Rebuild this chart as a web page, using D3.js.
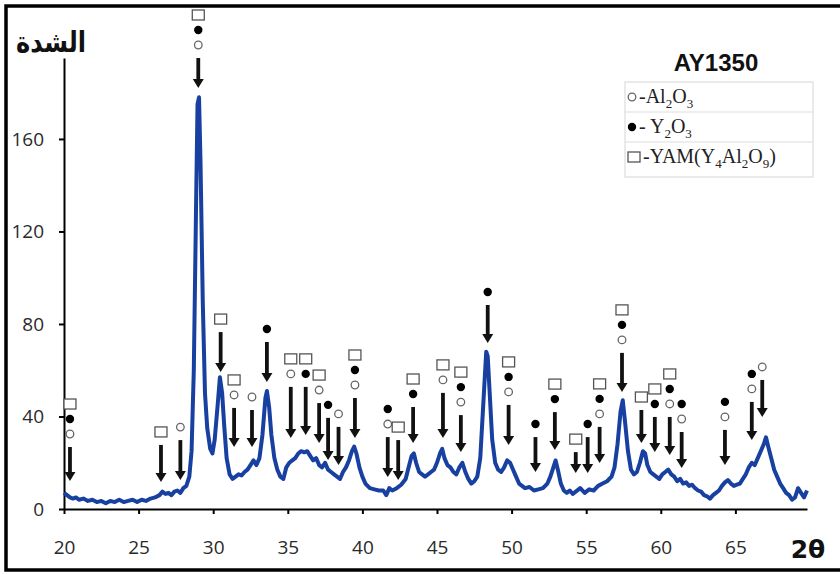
<!DOCTYPE html>
<html>
<head>
<meta charset="utf-8">
<script src="https://cdn.jsdelivr.net/npm/d3@7"></script>
<style>
  body { margin: 0; background: #fff; }
  svg { display: block; }
</style>
</head>
<body>
<div id="chart"></div>
<script>
// XRD pattern, sample AY1350
var twoTheta = [20.0, 20.2, 20.4, 20.6, 20.8, 21.0, 21.3, 21.6, 21.9, 22.2, 22.5, 22.8, 23.1, 23.4, 23.7, 24.0, 24.3, 24.6, 24.9, 25.2, 25.5, 25.8, 26.1, 26.4, 26.6, 26.8, 27.0, 27.2, 27.4, 27.6, 27.8, 28.0, 28.2, 28.4, 28.55, 28.7, 28.85, 28.95, 29.05, 29.15, 29.3, 29.45, 29.6, 29.8, 29.95, 30.1, 30.3, 30.45, 30.6, 30.75, 30.9, 31.1, 31.3, 31.5, 31.7, 31.9, 32.1, 32.3, 32.5, 32.7, 32.9, 33.1, 33.3, 33.5, 33.6, 33.75, 33.9, 34.1, 34.3, 34.5, 34.7, 34.9, 35.1, 35.3, 35.5, 35.7, 35.9, 36.1, 36.3, 36.5, 36.7, 36.9, 37.1, 37.3, 37.5, 37.7, 37.9, 38.1, 38.3, 38.5, 38.7, 38.9, 39.1, 39.3, 39.45, 39.6, 39.8, 40.0, 40.2, 40.5, 40.8, 41.1, 41.4, 41.6, 41.8, 42.0, 42.3, 42.6, 42.9, 43.1, 43.3, 43.45, 43.6, 43.8, 44.0, 44.2, 44.4, 44.6, 44.8, 45.0, 45.2, 45.35, 45.5, 45.7, 45.9, 46.1, 46.3, 46.5, 46.7, 46.9, 47.1, 47.3, 47.5, 47.7, 47.9, 48.1, 48.3, 48.4, 48.55, 48.7, 48.9, 49.1, 49.3, 49.5, 49.7, 49.9, 50.1, 50.3, 50.5, 50.7, 50.9, 51.2, 51.5, 51.8, 52.1, 52.4, 52.6, 52.8, 52.95, 53.1, 53.3, 53.5, 53.7, 53.9, 54.1, 54.3, 54.6, 54.9, 55.2, 55.5, 55.8, 56.1, 56.4, 56.7, 56.9, 57.1, 57.3, 57.45, 57.6, 57.8, 58.0, 58.2, 58.4, 58.6, 58.8, 58.95, 59.1, 59.3, 59.5, 59.7, 59.9, 60.1, 60.3, 60.5, 60.7, 60.9, 61.1, 61.3, 61.5, 61.7, 61.9, 62.1, 62.3, 62.5, 62.7, 62.9, 63.1, 63.3, 63.5, 63.7, 63.9, 64.1, 64.3, 64.5, 64.7, 64.9, 65.1, 65.3, 65.5, 65.7, 65.9, 66.1, 66.3, 66.5, 66.7, 66.9, 67.05, 67.2, 67.4, 67.6, 67.8, 68.0, 68.2, 68.4, 68.6, 68.8, 69.0, 69.2, 69.4, 69.6, 69.8];
var intensity = [7, 6, 5, 4.5, 5, 4, 4.5, 3.5, 4, 3, 3.5, 2.5, 3.5, 3, 4, 3, 3.5, 4, 3, 4, 3.5, 4.5, 5, 6, 7.5, 6.5, 7, 6, 7.5, 8, 7, 9, 10, 14, 25, 60, 130, 175, 178, 150, 90, 50, 35, 26, 24, 30, 45, 57, 50, 35, 22, 15, 13, 14, 15, 14.5, 16, 17, 19, 21, 19, 22, 32, 48, 51, 44, 32, 22, 17, 14, 13, 18, 20, 21, 22, 24, 25, 24.5, 25, 23, 21, 22, 19, 18, 20, 17, 16, 15, 14, 13, 16, 18, 21, 25, 27, 24, 18, 14, 11, 9, 8.5, 8, 8, 6, 9, 8, 9, 10.5, 13, 18, 23, 24, 20, 16, 15, 14, 15, 16, 17, 20, 24, 26, 22, 19, 18, 16, 15, 18, 20, 16, 13, 11, 12, 14, 22, 45, 68, 66, 48, 30, 20, 17, 16, 18, 21, 20, 17, 14, 11, 10, 9, 9.5, 8, 8.5, 9, 11, 14, 18, 21, 17, 11, 8, 7, 8, 6.5, 7.5, 9, 7, 8.5, 8, 10, 11, 12, 14, 18, 28, 42, 47, 38, 25, 17, 15, 16, 20, 25, 24, 19, 16, 15, 14, 13, 15, 16, 17, 15, 14, 12, 13, 11, 11.5, 10, 10.5, 9, 8, 7.5, 6, 5.5, 4.5, 6, 7, 8, 10, 11.5, 12.5, 11, 10, 10.5, 11, 13, 15, 18, 20, 19, 22, 25, 28, 31, 27, 22, 17, 14, 11, 9, 7, 6, 4, 5, 9, 7, 5, 8];

// phase markers: position, arrow top / tip (intensity units), phases (s = YAM, d = Y2O3, c = Al2O3)
var markPos = [20.4, 26.5, 27.8, 29.0, 30.5, 31.4, 32.6, 33.6, 35.2, 36.2, 37.1, 37.7, 38.4, 39.5, 41.7, 42.4, 43.4, 45.4, 46.6, 48.4, 49.8, 51.6, 52.9, 54.3, 55.1, 55.9, 57.4, 58.7, 59.6, 60.6, 61.4, 64.3, 66.1, 66.8];
var markTop = [26.8, 27.7, 29.8, 195, 76.5, 43.7, 42.8, 72.2, 52.8, 52.8, 45.8, 39.4, 35.5, 48, 31.1, 29.8, 44.1, 50.2, 40.6, 88.2, 45, 31.1, 41.9, 24.6, 31.1, 35.5, 67.5, 42.8, 39.8, 39.8, 33.3, 34.2, 46.3, 55.8];
var markTip = [12.1, 11.7, 12.5, 182, 59.2, 26.8, 26.8, 54.9, 30.7, 32, 28.5, 21.2, 19, 30.7, 13.8, 12.5, 28.5, 30.7, 24.6, 71.8, 27.7, 16, 25.5, 15.6, 15.6, 19.9, 50.6, 28.5, 24.6, 23.4, 17.7, 19, 29.8, 39.8];
var markPhases = ["sdc", "s", "c", "sdc", "s", "sc", "c", "d", "sc", "sd", "sc", "d", "c", "sdc", "dc", "s", "sd", "sc", "sdc", "d", "sdc", "d", "sd", "s", "d", "sdc", "sdc", "s", "sd", "sdc", "dc", "dc", "dc", "c"];

var yTicks = [0, 40, 80, 120, 160];
var xTicks = [20, 25, 30, 35, 40, 45, 50, 55, 60, 65];

var W = 840, H = 574;
var margin = { top: 58, right: 33, bottom: 65, left: 64 };

var svg = d3.select("#chart").append("svg")
    .attr("width", W)
    .attr("height", H);

// outer frame (right side runs off the picture)
svg.append("rect")
    .attr("x", 6).attr("y", 6)
    .attr("width", W + 20).attr("height", 564)
    .attr("fill", "none").attr("stroke", "#000").attr("stroke-width", 3.5);

var x = d3.scaleLinear().domain([20, 69.8]).range([margin.left, W - margin.right]);
var y = d3.scaleLinear().domain([0, 195]).range([H - margin.bottom, margin.top]);

// axes
var xAxis = svg.append("g")
    .attr("transform", "translate(0," + y(0) + ")")
    .call(d3.axisBottom(x).tickValues(xTicks).tickSize(5).tickSizeOuter(0).tickPadding(27));
var yAxis = svg.append("g")
    .attr("transform", "translate(" + x(20) + ",0)")
    .call(d3.axisLeft(y).tickValues(yTicks).tickSize(5).tickSizeOuter(0).tickPadding(15));

[xAxis, yAxis].forEach(function (g) {
    g.select(".domain").attr("stroke", "#000").attr("stroke-width", 2);
    g.selectAll(".tick line").attr("stroke", "#000").attr("stroke-width", 2);
    g.selectAll("text")
        .attr("fill", "#2a2a2a")
        .style("font-family", "'Open Sans', 'DejaVu Sans', sans-serif")
        .style("font-size", "19px");
});

// curve
var pts = twoTheta.map(function (t, i) { return [t, intensity[i]]; });
var line = d3.line()
    .x(function (d) { return x(d[0]); })
    .y(function (d) { return y(d[1]); });
svg.append("path")
    .datum(pts)
    .attr("d", line)
    .attr("fill", "none")
    .attr("stroke", "#1840a0")
    .attr("stroke-width", 4)
    .attr("stroke-linejoin", "round");

// arrows + phase symbols
function drawSymbol(g, kind, cx, cy) {
    if (kind === "s") {
        g.append("rect").attr("x", cx - 6).attr("y", cy - 5).attr("width", 12).attr("height", 10)
            .attr("fill", "#fff").attr("stroke", "#555").attr("stroke-width", 1.3);
    } else if (kind === "d") {
        g.append("circle").attr("cx", cx).attr("cy", cy).attr("r", 4.2).attr("fill", "#000");
    } else {
        g.append("circle").attr("cx", cx).attr("cy", cy).attr("r", 3.8)
            .attr("fill", "#fff").attr("stroke", "#666").attr("stroke-width", 1.3);
    }
}

var marks = svg.append("g");
markPos.forEach(function (p, i) {
    var cx = x(p), top = y(markTop[i]), tip = y(markTip[i]);
    marks.append("line")
        .attr("x1", cx).attr("x2", cx)
        .attr("y1", top).attr("y2", tip - 6)
        .attr("stroke", "#111").attr("stroke-width", 3.8);
    marks.append("path")
        .attr("d", "M" + (cx - 5.5) + "," + (tip - 9) + "L" + (cx + 5.5) + "," + (tip - 9) + "L" + cx + "," + tip + "Z")
        .attr("fill", "#111");
    var ph = markPhases[i].split("").reverse();
    ph.forEach(function (k, j) {
        drawSymbol(marks, k, cx, top - 13 - j * 15);
    });
});

// y label (Arabic) and x label
svg.append("text")
    .attr("x", 86).attr("y", 52)
    .attr("text-anchor", "end")
    .attr("textLength", 70)
    .attr("lengthAdjust", "spacingAndGlyphs")
    .style("font-family", "'DejaVu Sans', sans-serif")
    .style("font-weight", "bold")
    .style("font-size", "29px")
    .attr("fill", "#111")
    .text("الشدة");

svg.append("text")
    .attr("x", 808).attr("y", 558)
    .attr("text-anchor", "middle")
    .style("font-family", "'DejaVu Sans', sans-serif")
    .style("font-weight", "bold")
    .style("font-size", "25px")
    .attr("fill", "#111")
    .text("2θ");

// title + legend
svg.append("text")
    .attr("x", 716).attr("y", 71)
    .attr("text-anchor", "middle")
    .style("font-family", "'Liberation Sans', Arial, sans-serif")
    .style("font-weight", "bold")
    .style("font-size", "24px")
    .attr("fill", "#111")
    .text("AY1350");

var legendRows = [
    { kind: "c", parts: [["-Al", ""], ["2", "sub"], ["O", ""], ["3", "sub"]] },
    { kind: "d", parts: [["- Y", ""], ["2", "sub"], ["O", ""], ["3", "sub"]] },
    { kind: "s", parts: [["-YAM(Y", ""], ["4", "sub"], ["Al", ""], ["2", "sub"], ["O", ""], ["9", "sub"], [")", ""]] }
];
var lg = svg.append("g");
lg.append("rect")
    .attr("x", 625).attr("y", 82).attr("width", 188).attr("height", 95)
    .attr("fill", "#fff").attr("stroke", "#ddd").attr("stroke-width", 1.2);
[112, 142].forEach(function (ly) {
    lg.append("line").attr("x1", 625).attr("x2", 813).attr("y1", ly).attr("y2", ly)
        .attr("stroke", "#ddd").attr("stroke-width", 1.2);
});
legendRows.forEach(function (r, i) {
    var cy = 97 + i * 30;
    drawSymbol(lg, r.kind, r.kind === "s" ? 634 : 632, cy);
    var t = lg.append("text")
        .attr("x", r.kind === "s" ? 643 : 639).attr("y", cy + 6)
        .style("font-family", "'Liberation Serif', 'Times New Roman', serif")
        .style("font-size", "20px")
        .attr("fill", "#222");
    r.parts.forEach(function (p) {
        var ts = t.append("tspan").text(p[0]);
        if (p[1] === "sub") ts.attr("dy", 5).style("font-size", "13px");
        else if (t.selectAll("tspan").size() > 1) ts.attr("dy", -5);
    });
});
</script>
</body>
</html>
